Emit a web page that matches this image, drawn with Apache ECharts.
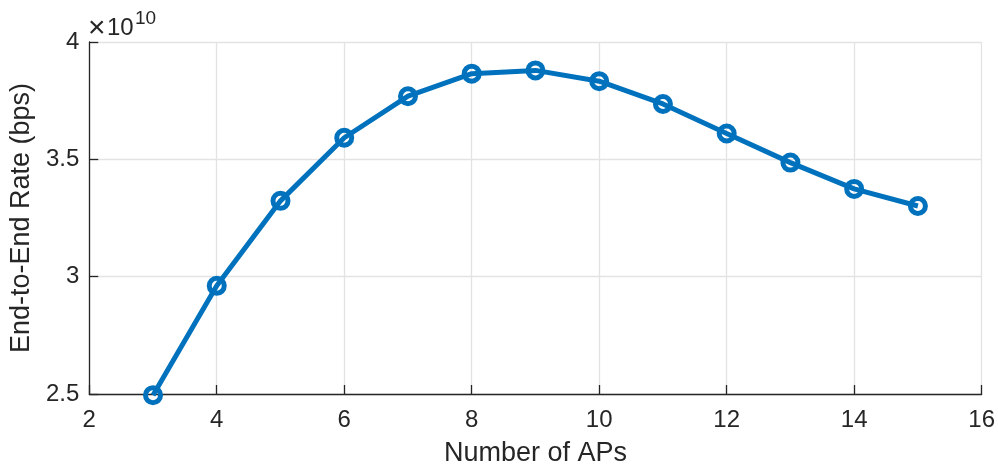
<!DOCTYPE html>
<html>
<head>
<meta charset="utf-8">
<script src="https://cdn.jsdelivr.net/npm/echarts@6/dist/echarts.min.js"></script>
<style>
html,body{margin:0;padding:0;background:#fff;}
#c{width:998px;height:472px;}
</style>
</head>
<body>
<div id="c"></div>
<script>
// Data
var numAPs = [3, 4, 5, 6, 7, 8, 9, 10, 11, 12, 13, 14, 15];
var rateBps = [2.495e10, 2.961e10, 3.323e10, 3.592e10, 3.769e10, 3.865e10, 3.879e10, 3.833e10, 3.736e10, 3.610e10, 3.486e10, 3.374e10, 3.301e10];
var xTicks = [2, 4, 6, 8, 10, 12, 14, 16];
var yTicks = [2.5e10, 3e10, 3.5e10, 4e10];
var yScale = 1e10;

var FONT = '"Liberation Sans", Arial, Helvetica, sans-serif';
var AX = '#262626';
var chart = echarts.init(document.getElementById('c'));
var pts = numAPs.map(function (x, i) { return [x, rateBps[i]]; });

chart.setOption({
  animation: false,
  backgroundColor: '#ffffff',
  grid: { left: 87, right: 16, top: 42, bottom: 77, containLabel: false },
  xAxis: {
    type: 'value',
    min: xTicks[0], max: xTicks[xTicks.length - 1], interval: 2,
    name: 'Number of APs', nameLocation: 'middle', nameGap: 46,
    nameTextStyle: { color: AX, fontSize: 27, fontFamily: FONT },
    axisLine: { show: true, onZero: false, lineStyle: { color: AX, width: 1.3 } },
    axisTick: { show: true, inside: true, length: 9, lineStyle: { color: AX, width: 1.3 } },
    axisLabel: { color: AX, fontSize: 24, fontFamily: FONT, margin: 14 },
    splitLine: { show: true, lineStyle: { color: '#e3e3e3', width: 1.3 } }
  },
  yAxis: {
    type: 'value',
    min: yTicks[0], max: yTicks[yTicks.length - 1], interval: 0.5e10,
    name: 'End-to-End Rate (bps)', nameLocation: 'middle', nameGap: 52, nameRotate: 90,
    nameTextStyle: { color: AX, fontSize: 27, fontFamily: FONT },
    axisLine: { show: true, onZero: false, lineStyle: { color: AX, width: 1.3 } },
    axisTick: { show: true, inside: true, length: 9, lineStyle: { color: AX, width: 1.3 } },
    axisLabel: { color: AX, fontSize: 24, fontFamily: FONT, margin: 10,
      formatter: function (v) { return String(+(v / yScale).toFixed(2)); } },
    splitLine: { show: true, lineStyle: { color: '#e3e3e3', width: 1.3 } }
  },
  graphic: [{
    type: 'text', x: 88, y: 29,
    style: { text: '×', fontSize: 30, fontFamily: FONT, fill: AX, verticalAlign: 'middle', align: 'left' }
  }, {
    type: 'text', x: 107, y: 28,
    style: { text: '10', fontSize: 24, fontFamily: FONT, fill: AX, verticalAlign: 'middle', align: 'left' }
  }, {
    type: 'text', x: 135, y: 18.5,
    style: { text: '10', fontSize: 19, fontFamily: FONT, fill: AX, verticalAlign: 'middle', align: 'left' }
  }],
  series: [{
    type: 'line',
    data: pts,
    symbol: 'circle',
    symbolSize: 15,
    lineStyle: { color: '#0072BD', width: 5 },
    itemStyle: { color: 'rgba(0,0,0,0)', borderColor: '#0072BD', borderWidth: 5 },
    clip: false
  }]
});
</script>
</body>
</html>
